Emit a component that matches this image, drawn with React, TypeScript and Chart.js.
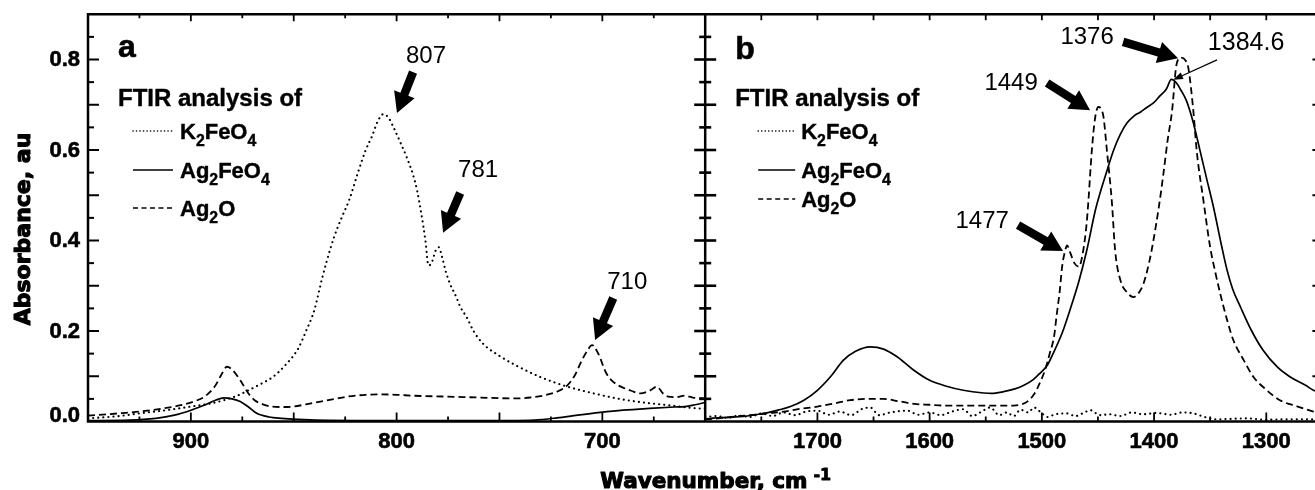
import React, { useEffect, useRef } from 'react';
import { Chart, registerables } from 'chart.js';

Chart.register(...registerables);

// ---------- axis ranges & tick labels ----------
const panelARange: [number, number] = [650, 950];
const panelBRange: [number, number] = [1250, 1800];
const yRange: [number, number] = [0, 0.9];

const xTicksA = [900, 800, 700];
const xTicksB = [1700, 1600, 1500, 1400, 1300];
const yTicks = [0.0, 0.2, 0.4, 0.6, 0.8];

const seriesLabels = ['K2FeO4', 'Ag2FeO4', 'Ag2O'];
const panelLetters = ['a', 'b'];
const legendTitle = 'FTIR analysis of';
const yTitle = 'Absorbance, au';
const xTitle = 'Wavenumber, cm';
const xTitleSup = '-1';

// ---------- panel a (wavenumber, absorbance) ----------
const k2feo4A: [number, number][] = [
  [950, 0.007], [935, 0.012], [925, 0.018], [912, 0.025], [900, 0.033], [890, 0.04],
  [884, 0.047], [878, 0.056], [872, 0.069], [866, 0.083], [860, 0.099], [854, 0.125],
  [848, 0.16], [844, 0.2], [840, 0.246], [836, 0.32], [832, 0.385], [829, 0.425],
  [826, 0.458], [823, 0.49], [819, 0.547], [815, 0.6], [812, 0.63], [809, 0.665],
  [806.5, 0.679], [804, 0.672], [801.5, 0.65], [798, 0.615], [795, 0.583], [792, 0.545],
  [790, 0.51], [788, 0.46], [786, 0.4], [784.5, 0.345], [783, 0.35], [781, 0.378],
  [779.5, 0.385], [778, 0.365], [776, 0.33], [774, 0.304], [771, 0.275], [769, 0.253],
  [766, 0.231], [762.6, 0.2], [758, 0.172], [750, 0.145], [742, 0.124], [730, 0.098],
  [717, 0.077], [705, 0.063], [693, 0.051], [680, 0.042], [668, 0.036], [654, 0.029],
  [650, 0.028],
];
const ag2feo4A: [number, number][] = [
  [950, 0.002], [930, 0.003], [917, 0.007], [908, 0.014], [900, 0.025], [893, 0.037],
  [888, 0.047], [884, 0.052], [880, 0.05], [876, 0.044], [872, 0.032], [868, 0.018],
  [862, 0.01], [856, 0.007], [845, 0.004], [820, 0.002], [780, 0.002], [745, 0.002],
  [733, 0.003], [722, 0.008], [712, 0.014], [701, 0.02], [690, 0.025], [677, 0.029],
  [665, 0.032], [660, 0.033], [655, 0.037], [650, 0.042],
];
const ag2oA: [number, number][] = [
  [950, 0.013], [935, 0.018], [925, 0.022], [912, 0.03], [905, 0.036], [898, 0.045],
  [893, 0.056], [888, 0.08], [885, 0.105], [882.5, 0.121], [880, 0.115], [876, 0.091],
  [872, 0.062], [869, 0.047], [865, 0.038], [861, 0.033], [855, 0.032], [850, 0.033],
  [844, 0.038], [837, 0.044], [830, 0.05], [824, 0.055], [815, 0.059], [808, 0.06],
  [800, 0.059], [792, 0.057], [775, 0.055], [760, 0.053], [742, 0.051], [735, 0.053],
  [728, 0.058], [722, 0.066], [717, 0.08], [713, 0.105], [710.5, 0.13], [707.5, 0.155],
  [705, 0.169], [702, 0.15], [698, 0.106], [694, 0.085], [691, 0.077], [686, 0.068],
  [681.5, 0.062], [677, 0.068], [673.5, 0.077], [670.5, 0.062], [668, 0.055], [664, 0.054],
  [660, 0.057], [656, 0.053], [650, 0.051],
];

// ---------- panel b ----------
const k2feo4B: [number, number][] = [
  [1800, 0.01], [1790, 0.012], [1780, 0.008], [1770, 0.013], [1760, 0.01], [1750, 0.018],
  [1740, 0.012], [1730, 0.02], [1720, 0.014], [1710, 0.022], [1700, 0.024], [1690, 0.015],
  [1680, 0.022], [1670, 0.014], [1660, 0.028], [1653, 0.031], [1645, 0.014], [1635, 0.02],
  [1620, 0.024], [1610, 0.015], [1600, 0.02], [1590, 0.014], [1580, 0.022], [1570, 0.027],
  [1562, 0.012], [1555, 0.02], [1546, 0.031], [1538, 0.014], [1531, 0.02], [1525, 0.012],
  [1519, 0.026], [1512, 0.02], [1507, 0.031], [1500, 0.018], [1495, 0.01], [1488, 0.016],
  [1478, 0.018], [1470, 0.012], [1462, 0.02], [1457, 0.025], [1448, 0.014], [1440, 0.016],
  [1430, 0.012], [1420, 0.02], [1410, 0.016], [1398, 0.019], [1385, 0.015], [1375, 0.02],
  [1365, 0.018], [1355, 0.01], [1345, 0.005], [1330, 0.006], [1318, 0.007], [1300, 0.004],
  [1280, 0.005], [1258, 0.005], [1250, 0.005],
];
const ag2feo4B: [number, number][] = [
  [1800, 0.005], [1795, 0.007], [1780, 0.009], [1766, 0.011], [1755, 0.015], [1745, 0.019],
  [1735, 0.025], [1724, 0.033], [1712, 0.047], [1700, 0.069], [1688, 0.1], [1677, 0.135],
  [1666, 0.155], [1653, 0.165], [1641, 0.16], [1629, 0.143], [1615, 0.115], [1600, 0.091],
  [1585, 0.078], [1570, 0.069], [1552, 0.063], [1545, 0.062], [1534, 0.066], [1524, 0.072],
  [1516, 0.08], [1508, 0.092], [1502, 0.106], [1495, 0.125], [1490, 0.15], [1482, 0.195],
  [1475, 0.246], [1467, 0.31], [1460, 0.378], [1452, 0.47], [1442, 0.554], [1436, 0.6],
  [1430, 0.635], [1424, 0.66], [1418, 0.675], [1412, 0.684], [1406.5, 0.694], [1400, 0.705],
  [1395, 0.719], [1389, 0.735], [1384.6, 0.756], [1380, 0.748], [1376, 0.732], [1371, 0.708],
  [1365, 0.66], [1359, 0.598], [1353, 0.535], [1347, 0.473], [1340, 0.39], [1335, 0.335],
  [1330, 0.293], [1323, 0.253], [1313, 0.2], [1303, 0.158], [1290, 0.12], [1279, 0.099],
  [1265, 0.08], [1258, 0.069], [1250, 0.063],
];
const ag2oB: [number, number][] = [
  [1800, 0.004], [1785, 0.008], [1770, 0.012], [1760, 0.014], [1745, 0.018], [1730, 0.022],
  [1715, 0.028], [1700, 0.033], [1685, 0.04], [1671, 0.047], [1655, 0.05], [1641, 0.05],
  [1628, 0.045], [1614, 0.039], [1600, 0.037], [1585, 0.035], [1570, 0.035], [1550, 0.035],
  [1535, 0.035], [1525, 0.035], [1518, 0.038], [1513, 0.044], [1507, 0.06], [1502, 0.084],
  [1497, 0.115], [1493, 0.15], [1489, 0.19], [1487, 0.231], [1484, 0.29], [1482, 0.341],
  [1479.5, 0.375], [1477.5, 0.389], [1475, 0.375], [1471, 0.35], [1467, 0.342], [1463, 0.38],
  [1460, 0.44], [1458.5, 0.488], [1455.5, 0.598], [1452.6, 0.67], [1449.6, 0.695], [1447, 0.69],
  [1445, 0.672], [1442, 0.598], [1437.7, 0.488], [1434.7, 0.378], [1430, 0.312], [1424, 0.285],
  [1418.4, 0.275], [1414, 0.283], [1409.5, 0.304], [1404, 0.356], [1400.6, 0.4], [1396, 0.47],
  [1391.7, 0.547], [1388, 0.62], [1384, 0.686], [1380, 0.789], [1376, 0.804], [1372, 0.798],
  [1369.5, 0.782], [1365, 0.686], [1362, 0.598], [1356, 0.488], [1350, 0.385], [1345, 0.325],
  [1341, 0.282], [1335, 0.225], [1329.4, 0.18], [1320, 0.135], [1311.6, 0.099], [1300, 0.07],
  [1287.8, 0.047], [1272, 0.033], [1258, 0.022], [1250, 0.018],
];

// ---------- peak annotations (data coordinates) ----------
type Ann = { label: string; axis: 'xa' | 'xb'; text: [number, number]; tail: [number, number]; tip: [number, number]; thin?: boolean };
const annotations: Ann[] = [
  { label: '807', axis: 'xa', text: [785.7, 0.806], tail: [792.0, 0.772], tip: [799.8, 0.682] },
  { label: '781', axis: 'xa', text: [760.4, 0.556], tail: [769.1, 0.505], tip: [777.4, 0.417] },
  { label: '710', axis: 'xa', text: [687.9, 0.308], tail: [694.7, 0.273], tip: [703.5, 0.18] },
  { label: '1449', axis: 'xb', text: [1527.4, 0.748], tail: [1495.3, 0.748], tip: [1457.0, 0.688] },
  { label: '1376', axis: 'xb', text: [1459.7, 0.85], tail: [1427.6, 0.839], tip: [1378.6, 0.803] },
  { label: '1384.6', axis: 'xb', text: [1318.0, 0.837], tail: [1343.9, 0.799], tip: [1383.1, 0.755], thin: true },
  { label: '1477', axis: 'xb', text: [1553.2, 0.443], tail: [1521.2, 0.434], tip: [1481.1, 0.377] },
];

// ---------- styles ----------
const lineStyles = [
  { dash: [0.1, 5], width: 2.1, cap: 'round', legendDash: [0.1, 3.4], legendWidth: 1.6 },
  { dash: [], width: 1.7, cap: 'butt', legendDash: [], legendWidth: 1.7 },
  { dash: [7, 4], width: 1.8, cap: 'butt', legendDash: [5, 3.5], legendWidth: 1.5 },
];

const TICK_FONT = 'bold 22px "Liberation Sans", Arial, sans-serif';
const TITLE_FONT_FAMILY = '"DejaVu Sans", sans-serif';

function heavyText(ctx: CanvasRenderingContext2D, text: string, x: number, y: number, stroke: number) {
  ctx.fillText(text, x, y);
  if (stroke > 0) {
    ctx.save();
    ctx.lineWidth = stroke;
    ctx.lineJoin = 'round';
    ctx.strokeText(text, x, y);
    ctx.restore();
  }
}

function drawChem(ctx: CanvasRenderingContext2D, text: string, x: number, y: number, size: number) {
  let cx = x;
  for (const ch of text) {
    const sub = /[0-9]/.test(ch);
    const s = sub ? size * 0.72 : size;
    ctx.font = `bold ${s}px "Liberation Sans", Arial, sans-serif`;
    heavyText(ctx, ch, cx, sub ? y + size * 0.33 : y, 0.4);
    cx += ctx.measureText(ch).width;
  }
}

function fatArrow(ctx: CanvasRenderingContext2D, x1: number, y1: number, x2: number, y2: number) {
  const shaft = 8.5, headW = 22, headL = 20;
  const dx = x2 - x1, dy = y2 - y1;
  const len = Math.hypot(dx, dy);
  const ux = dx / len, uy = dy / len;
  const nx = -uy, ny = ux;
  const bx = x2 - ux * headL, by = y2 - uy * headL;
  ctx.beginPath();
  ctx.moveTo(x1 + (nx * shaft) / 2, y1 + (ny * shaft) / 2);
  ctx.lineTo(bx + (nx * shaft) / 2, by + (ny * shaft) / 2);
  ctx.lineTo(bx + (nx * headW) / 2, by + (ny * headW) / 2);
  ctx.lineTo(x2, y2);
  ctx.lineTo(bx - (nx * headW) / 2, by - (ny * headW) / 2);
  ctx.lineTo(bx - (nx * shaft) / 2, by - (ny * shaft) / 2);
  ctx.lineTo(x1 - (nx * shaft) / 2, y1 - (ny * shaft) / 2);
  ctx.closePath();
  ctx.fill();
}

function thinArrow(ctx: CanvasRenderingContext2D, x1: number, y1: number, x2: number, y2: number) {
  const headW = 7, headL = 10;
  const dx = x2 - x1, dy = y2 - y1;
  const len = Math.hypot(dx, dy);
  const ux = dx / len, uy = dy / len;
  const nx = -uy, ny = ux;
  const bx = x2 - ux * headL, by = y2 - uy * headL;
  ctx.lineWidth = 1.3;
  ctx.beginPath();
  ctx.moveTo(x1, y1);
  ctx.lineTo(bx, by);
  ctx.stroke();
  ctx.beginPath();
  ctx.moveTo(x2, y2);
  ctx.lineTo(bx + (nx * headW) / 2, by + (ny * headW) / 2);
  ctx.lineTo(bx - (nx * headW) / 2, by - (ny * headW) / 2);
  ctx.closePath();
  ctx.fill();
}

const decorPlugin = {
  id: 'decor',
  afterDraw(chart: any) {
    const { ctx, chartArea: ca, scales } = chart;
    const xa = scales.xa, xb = scales.xb, ys = scales.y;
    const xDiv = xa.getPixelForValue(panelARange[0]);
    const top = ca.top, bot = ca.bottom;
    const seg = (x1: number, y1: number, x2: number, y2: number) => {
      ctx.beginPath();
      ctx.moveTo(x1, y1);
      ctx.lineTo(x2, y2);
      ctx.stroke();
    };
    ctx.save();
    ctx.strokeStyle = '#000';
    ctx.fillStyle = '#000';
    ctx.setLineDash([]);
    ctx.lineCap = 'butt';

    // frame & divider
    ctx.lineWidth = 2.5;
    ctx.strokeRect(ca.left, top, ca.right - ca.left, bot - top);
    seg(xDiv, top, xDiv, bot);

    // y ticks (every 0.05)
    for (let i = 1; i < 18; i++) {
      const py = ys.getPixelForValue(i * 0.05);
      const major = i % 2 === 0;
      ctx.lineWidth = 2;
      seg(ca.left, py, ca.left + (major ? 11 : 6), py);
      seg(ca.right - (major ? 10 : 6), py, ca.right, py);
      ctx.lineWidth = 2.6;
      seg(xDiv - (major ? 11 : 6), py, xDiv + (major ? 11 : 6), py);
    }

    // x ticks panel a (every 25)
    ctx.lineWidth = 1.8;
    for (let w = panelARange[0] + 25; w < panelARange[1]; w += 25) {
      const px = xa.getPixelForValue(w);
      const major = w % 50 === 0;
      seg(px, bot, px, bot - (major ? 9 : 5));
      seg(px, top, px, top + (major ? 7 : 4));
    }
    // x ticks panel b (every 50)
    for (let w = panelBRange[0] + 50; w < panelBRange[1]; w += 50) {
      const px = xb.getPixelForValue(w);
      const major = w % 100 === 0;
      seg(px, bot, px, bot - (major ? 9 : 5));
      seg(px, top, px, top + 6);
    }

    // tick labels
    ctx.font = TICK_FONT;
    ctx.textBaseline = 'alphabetic';
    ctx.textAlign = 'center';
    xTicksA.forEach((w) => heavyText(ctx, String(w), xa.getPixelForValue(w), bot + 26.5, 0.6));
    xTicksB.forEach((w) => heavyText(ctx, String(w), xb.getPixelForValue(w), bot + 26.5, 0.6));
    ctx.textAlign = 'right';
    yTicks.forEach((v) => {
      const cy = Math.min(ys.getPixelForValue(v) - 1.5, bot - 7.5);
      heavyText(ctx, v.toFixed(1), ca.left - 8, cy + 8, 0.6);
    });

    // axis titles
    ctx.save();
    ctx.translate(30, 229);
    ctx.rotate(-Math.PI / 2);
    ctx.textAlign = 'center';
    ctx.font = `bold 22px ${TITLE_FONT_FAMILY}`;
    heavyText(ctx, yTitle, 0, 0, 1.1);
    ctx.restore();

    ctx.textAlign = 'left';
    ctx.font = `bold 21.5px ${TITLE_FONT_FAMILY}`;
    const tx = xDiv - 105;
    heavyText(ctx, xTitle, tx, 488, 1.1);
    const tw = ctx.measureText(xTitle).width;
    ctx.font = `bold 16px ${TITLE_FONT_FAMILY}`;
    heavyText(ctx, xTitleSup, tx + tw + 6, 480, 0.8);

    // panel letters, legend blocks
    const panels = [
      { left: ca.left, letterY: 57, lineX0: 45, lineX1: 85, textX: 92, rows: [139, 178, 216] },
      { left: xDiv, letterY: 59, lineX0: 53, lineX1: 90, textX: 96, rows: [139, 178, 207] },
    ];
    panels.forEach((p, pi) => {
      ctx.textAlign = 'left';
      ctx.font = 'bold 32px "Liberation Sans", Arial, sans-serif';
      heavyText(ctx, panelLetters[pi], p.left + 30, p.letterY, 0.6);
      ctx.font = 'bold 24px "Liberation Sans", Arial, sans-serif';
      heavyText(ctx, legendTitle, p.left + 30, 106, 0.4);
      p.rows.forEach((ry, si) => {
        const st = lineStyles[si];
        ctx.save();
        ctx.lineWidth = st.legendWidth;
        ctx.lineCap = st.cap as CanvasLineCap;
        ctx.setLineDash(st.legendDash);
        seg(p.left + p.lineX0, ry - 8, p.left + p.lineX1, ry - 8);
        ctx.restore();
        drawChem(ctx, seriesLabels[si], p.left + p.textX, ry, 22);
      });
    });

    // annotations
    annotations.forEach((a) => {
      const sx = scales[a.axis];
      ctx.font = a.thin ? '25px "Liberation Sans", Arial, sans-serif' : '24px "Liberation Sans", Arial, sans-serif';
      ctx.textAlign = 'center';
      ctx.textBaseline = 'middle';
      ctx.fillText(a.label, sx.getPixelForValue(a.text[0]), ys.getPixelForValue(a.text[1]));
      const x1 = sx.getPixelForValue(a.tail[0]), y1 = ys.getPixelForValue(a.tail[1]);
      const x2 = sx.getPixelForValue(a.tip[0]), y2 = ys.getPixelForValue(a.tip[1]);
      if (a.thin) thinArrow(ctx, x1, y1, x2, y2);
      else fatArrow(ctx, x1, y1, x2, y2);
    });
    ctx.restore();
  },
};

function makeDataset(pts: [number, number][], si: number, axis: string) {
  const st = lineStyles[si];
  return {
    label: seriesLabels[si],
    data: pts.map(([x, y]) => ({ x, y })),
    xAxisID: axis,
    yAxisID: 'y',
    borderColor: '#000',
    backgroundColor: '#000',
    borderWidth: st.width,
    borderDash: st.dash,
    borderCapStyle: st.cap,
    pointRadius: 0,
    cubicInterpolationMode: 'monotone',
    fill: false,
  };
}

export default function App() {
  const ref = useRef<HTMLCanvasElement>(null);
  useEffect(() => {
    const canvas = ref.current;
    if (!canvas) return;
    const chart = new Chart(canvas, {
      type: 'line',
      data: {
        datasets: [
          makeDataset(k2feo4A, 0, 'xa'),
          makeDataset(ag2feo4A, 1, 'xa'),
          makeDataset(ag2oA, 2, 'xa'),
          makeDataset(k2feo4B, 0, 'xb'),
          makeDataset(ag2feo4B, 1, 'xb'),
          makeDataset(ag2oB, 2, 'xb'),
        ] as any,
      },
      options: {
        responsive: false,
        animation: false,
        layout: { padding: { left: 88, right: 9.6, top: 14.25, bottom: 68.5 } },
        plugins: { legend: { display: false }, tooltip: { enabled: false } },
        scales: {
          xa: { type: 'linear', position: 'bottom', min: panelARange[0], max: panelARange[1], reverse: true, display: false, stack: 'x', stackWeight: 1 },
          xb: { type: 'linear', position: 'bottom', min: panelBRange[0], max: panelBRange[1], reverse: true, display: false, stack: 'x', stackWeight: 1 },
          y: { type: 'linear', position: 'left', min: yRange[0], max: yRange[1], display: false },
        } as any,
      },
      plugins: [decorPlugin],
    });
    return () => chart.destroy();
  }, []);
  return (
    <div style={{ position: 'fixed', left: 0, top: 0, width: 1315, height: 490, overflow: 'hidden', background: '#fff' }}>
      <canvas ref={ref} width={1332} height={490} style={{ width: 1332, height: 490, display: 'block' }} />
    </div>
  );
}
